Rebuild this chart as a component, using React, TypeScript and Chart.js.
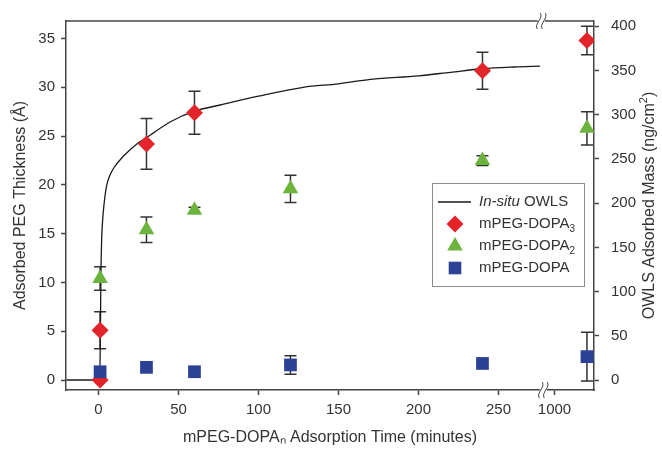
import React, { useEffect, useRef } from 'react';
import { Chart, registerables } from 'chart.js';

Chart.register(...registerables);

// ---- data (minutes / Å / ng·cm^-2) ----
const DOPA3_T = [1, 1, 30, 60, 240, 1440];
const DOPA3_Y = [0, 5.1, 24.2, 27.4, 31.7, 34.8];
const DOPA3_ERR = [0, 1.9, 2.6, 2.2, 1.9, 1.45];

const DOPA2_T = [1, 30, 60, 120, 240, 1440];
const DOPA2_Y = [10.4, 15.4, 17.4, 19.6, 22.5, 25.8];
const DOPA2_ERR = [1.2, 1.3, 0.3, 1.4, 0.5, 1.7];

const DOPA1_T = [1, 30, 60, 120, 240, 1440];
const DOPA1_Y = [0.85, 1.3, 0.85, 1.55, 1.7, 2.4];
const DOPA1_ERR = [0, 0, 0, 0.95, 0, 2.5];

const OWLS_T = [-20, -10, 0.8, 1.2, 1.5, 2, 2.5, 3, 4, 5, 7, 10, 15.5, 24, 30, 45, 60, 76, 100, 128, 150, 170, 200, 220, 240, 260, 276];
const OWLS_MASS = [0, 0, 0, 55, 115, 160, 178, 190, 207, 219, 231, 241, 253, 267, 274, 292, 304, 311, 321, 331, 335, 340, 344, 348, 352, 354, 355];

const X_TICKS = [0, 50, 100, 150, 200, 250, 1000];
const Y_TICKS = [0, 5, 10, 15, 20, 25, 30, 35];
const Y2_TICKS = [0, 50, 100, 150, 200, 250, 300, 350, 400];

// ---- broken x-axis mapping ----
const BREAK_START = 278;
const BREAK_RESUME = 1000;
const BREAK_POS = 285;
const LATE_SCALE = 20.3 / 440;
function axisX(t: number): number {
  return t <= BREAK_START ? t : BREAK_POS + (t - BREAK_RESUME) * LATE_SCALE;
}

const RED = '#e3242b';
const GREEN = '#6db43f';
const BLUE = '#2a4196';
const AXIS = '#444444';
const TEXT = '#333333';
const FONT = "'Liberation Sans', Arial, sans-serif";

const errorBarPlugin = {
  id: 'errorBars',
  beforeDatasetsDraw(chart: any) {
    const ctx = chart.ctx;
    ctx.save();
    ctx.strokeStyle = '#333';
    ctx.lineWidth = 1.5;
    chart.data.datasets.forEach((ds: any, i: number) => {
      if (!ds.errors) return;
      const meta = chart.getDatasetMeta(i);
      const ys = chart.scales[ds.yAxisID || 'y'];
      meta.data.forEach((el: any, j: number) => {
        const e = ds.errors[j];
        if (!e) return;
        const v = ds.data[j].y;
        const top = ys.getPixelForValue(v + e);
        const bot = ys.getPixelForValue(v - e);
        const x = el.x;
        ctx.beginPath();
        ctx.moveTo(x, top); ctx.lineTo(x, bot);
        ctx.moveTo(x - 6, top); ctx.lineTo(x + 6, top);
        ctx.moveTo(x - 6, bot); ctx.lineTo(x + 6, bot);
        ctx.stroke();
      });
    });
    ctx.restore();
  },
};

function drawMarker(ctx: CanvasRenderingContext2D, kind: string, x: number, y: number, color: string) {
  ctx.fillStyle = color;
  ctx.beginPath();
  if (kind === 'diamond') {
    const r = 8.5;
    ctx.moveTo(x, y - r); ctx.lineTo(x + r, y); ctx.lineTo(x, y + r); ctx.lineTo(x - r, y);
  } else if (kind === 'triangle') {
    const r = 9;
    ctx.moveTo(x, y - r); ctx.lineTo(x + r * 0.866, y + r * 0.5); ctx.lineTo(x - r * 0.866, y + r * 0.5);
  } else {
    const h = 6.3;
    ctx.rect(x - h, y - h, 2 * h, 2 * h);
  }
  ctx.closePath();
  ctx.fill();
}

function drawBreak(ctx: CanvasRenderingContext2D, x: number, y: number) {
  ctx.save();
  ctx.fillStyle = '#fff';
  ctx.fillRect(x - 3.5, y - 2, 7, 4);
  ctx.strokeStyle = AXIS;
  ctx.lineWidth = 1;
  for (const dx of [-2.5, 2.5]) {
    ctx.beginPath();
    ctx.moveTo(x + dx - 1.5, y + 8);
    ctx.bezierCurveTo(x + dx - 5, y + 3, x + dx + 5, y - 3, x + dx + 1.5, y - 8);
    ctx.stroke();
  }
  ctx.restore();
}

const decorPlugin = {
  id: 'decor',
  afterDraw(chart: any) {
    const ctx: CanvasRenderingContext2D = chart.ctx;
    const { left, right, top, bottom } = chart.chartArea;
    ctx.save();
    // top frame
    ctx.strokeStyle = AXIS;
    ctx.lineWidth = 1.5;
    ctx.beginPath();
    ctx.moveTo(left, top);
    ctx.lineTo(right, top);
    ctx.stroke();
    // axis breaks
    const bx = chart.scales.x.getPixelForValue(BREAK_START);
    drawBreak(ctx, bx, bottom);
    drawBreak(ctx, bx - 2, top);

    // right axis title
    ctx.save();
    ctx.translate(650, (top + bottom) / 2);
    ctx.rotate(-Math.PI / 2);
    ctx.fillStyle = TEXT;
    ctx.textBaseline = 'middle';
    const main = 'OWLS Adsorbed Mass (ng/cm';
    ctx.font = `16px ${FONT}`;
    const w1 = ctx.measureText(main).width;
    ctx.font = `11px ${FONT}`;
    const w2 = ctx.measureText('2').width;
    ctx.font = `16px ${FONT}`;
    const w3 = ctx.measureText(')').width;
    let sx = -(w1 + w2 + w3) / 2;
    ctx.textAlign = 'left';
    ctx.fillText(main, sx, 0);
    sx += w1;
    ctx.font = `11px ${FONT}`;
    ctx.fillText('2', sx, -6);
    sx += w2;
    ctx.font = `16px ${FONT}`;
    ctx.fillText(')', sx, 0);
    ctx.restore();

    // legend
    const lx = 432, ly = 183, lw = 152, lh = 103;
    ctx.strokeStyle = '#8c8c8c';
    ctx.lineWidth = 1;
    ctx.fillStyle = '#fff';
    ctx.fillRect(lx, ly, lw, lh);
    ctx.strokeRect(lx + 0.5, ly + 0.5, lw, lh);
    const tx = 479;
    const rows = [202, 224, 246, 268];
    ctx.strokeStyle = '#1a1a1a';
    ctx.lineWidth = 1.3;
    ctx.beginPath();
    ctx.moveTo(438, rows[0]);
    ctx.lineTo(471, rows[0]);
    ctx.stroke();
    ctx.fillStyle = TEXT;
    ctx.textBaseline = 'middle';
    ctx.textAlign = 'left';
    ctx.font = `italic 15px ${FONT}`;
    ctx.fillText('In-situ', tx, rows[0]);
    const iw = ctx.measureText('In-situ').width;
    ctx.font = `15px ${FONT}`;
    ctx.fillText(' OWLS', tx + iw, rows[0]);

    const entries: [string, string, string, string][] = [
      ['diamond', RED, 'mPEG-DOPA', '3'],
      ['triangle', GREEN, 'mPEG-DOPA', '2'],
      ['square', BLUE, 'mPEG-DOPA', ''],
    ];
    entries.forEach((en, k) => {
      const y = rows[k + 1];
      drawMarker(ctx, en[0], 455, y, en[1]);
      ctx.fillStyle = TEXT;
      ctx.font = `15px ${FONT}`;
      ctx.fillText(en[2], tx, y);
      if (en[3]) {
        const w = ctx.measureText(en[2]).width;
        ctx.font = `10px ${FONT}`;
        ctx.fillText(en[3], tx + w, y + 5);
      }
    });
    ctx.restore();
  },
};

function pts(ts: number[], ys: number[]) {
  return ts.map((t, i) => ({ x: axisX(t), y: ys[i] }));
}

export default function App() {
  const ref = useRef<HTMLCanvasElement | null>(null);
  useEffect(() => {
    if (!ref.current) return;
    const tickFont = { family: FONT, size: 15 };
    const chart = new Chart(ref.current, {
      type: 'scatter',
      data: {
        datasets: [
          {
            label: 'mPEG-DOPA',
            data: pts(DOPA1_T, DOPA1_Y),
            errors: DOPA1_ERR,
            yAxisID: 'y',
            pointStyle: 'rect',
            pointRadius: 9,
            backgroundColor: BLUE,
            borderColor: BLUE,
            borderWidth: 0,
            order: 0,
          } as any,
          {
            label: 'mPEG-DOPA2',
            data: pts(DOPA2_T, DOPA2_Y),
            errors: DOPA2_ERR,
            yAxisID: 'y',
            pointStyle: 'triangle',
            pointRadius: 9,
            backgroundColor: GREEN,
            borderColor: GREEN,
            borderWidth: 0,
            order: 1,
          } as any,
          {
            label: 'mPEG-DOPA3',
            data: pts(DOPA3_T, DOPA3_Y),
            errors: DOPA3_ERR,
            yAxisID: 'y',
            pointStyle: 'rectRot',
            pointRadius: 8.5,
            backgroundColor: RED,
            borderColor: RED,
            borderWidth: 0,
            order: 2,
          } as any,
          {
            label: 'In-situ OWLS',
            type: 'line',
            data: pts(OWLS_T, OWLS_MASS),
            yAxisID: 'y2',
            showLine: true,
            borderColor: '#1a1a1a',
            borderWidth: 1.3,
            pointRadius: 0,
            cubicInterpolationMode: 'monotone',
            order: 3,
          } as any,
        ],
      },
      options: {
        animation: false,
        responsive: false,
        layout: { padding: { top: 20, left: 0, right: 0, bottom: 0 } },
        plugins: { legend: { display: false }, tooltip: { enabled: false } },
        scales: {
          x: {
            type: 'linear',
            min: -20.3,
            max: 309.7,
            afterFit: (s: any) => { s.height = 60; },
            afterBuildTicks: (s: any) => { s.ticks = X_TICKS.map((v) => ({ value: axisX(v) })); },
            ticks: {
              autoSkip: false,
              maxRotation: 0,
              padding: 6,
              color: TEXT,
              font: tickFont,
              callback: (_v: any, i: number) => String(X_TICKS[i]),
            },
            grid: { drawOnChartArea: false, tickLength: 5, tickColor: AXIS, tickWidth: 1.5 },
            border: { color: AXIS, width: 1.5 },
            title: {
              display: true,
              text: 'mPEG-DOPAₙ Adsorption Time (minutes)',
              color: TEXT,
              font: { family: FONT, size: 16 },
              padding: { top: 0, bottom: 3 },
            },
          },
          y: {
            type: 'linear',
            position: 'left',
            min: -1.02,
            max: 36.8,
            afterFit: (s: any) => { s.width = 66; },
            afterBuildTicks: (s: any) => { s.ticks = Y_TICKS.map((v) => ({ value: v })); },
            ticks: { padding: 6, color: TEXT, font: tickFont },
            grid: { drawOnChartArea: false, tickLength: 5, tickColor: AXIS, tickWidth: 1.5 },
            border: { color: AXIS, width: 1.5 },
            title: {
              display: true,
              text: 'Adsorbed PEG Thickness (Å)',
              color: TEXT,
              font: { family: FONT, size: 16 },
              padding: { top: 11, bottom: 0 },
            },
          },
          y2: {
            type: 'linear',
            position: 'right',
            min: -11.3,
            max: 406,
            afterFit: (s: any) => { s.width = 68; },
            afterBuildTicks: (s: any) => { s.ticks = Y2_TICKS.map((v) => ({ value: v })); },
            ticks: { padding: 12, color: TEXT, font: tickFont },
            grid: { drawOnChartArea: false, tickLength: 5, tickColor: AXIS, tickWidth: 1.5 },
            border: { color: AXIS, width: 1.5 },
            title: { display: false },
          },
        },
      } as any,
      plugins: [errorBarPlugin, decorPlugin],
    });
    return () => chart.destroy();
  }, []);
  return (
    <div style={{ position: 'absolute', left: 0, top: 0, width: 662, height: 450, background: '#fff' }}>
      <canvas ref={ref} width={662} height={450} style={{ display: 'block' }} />
    </div>
  );
}
